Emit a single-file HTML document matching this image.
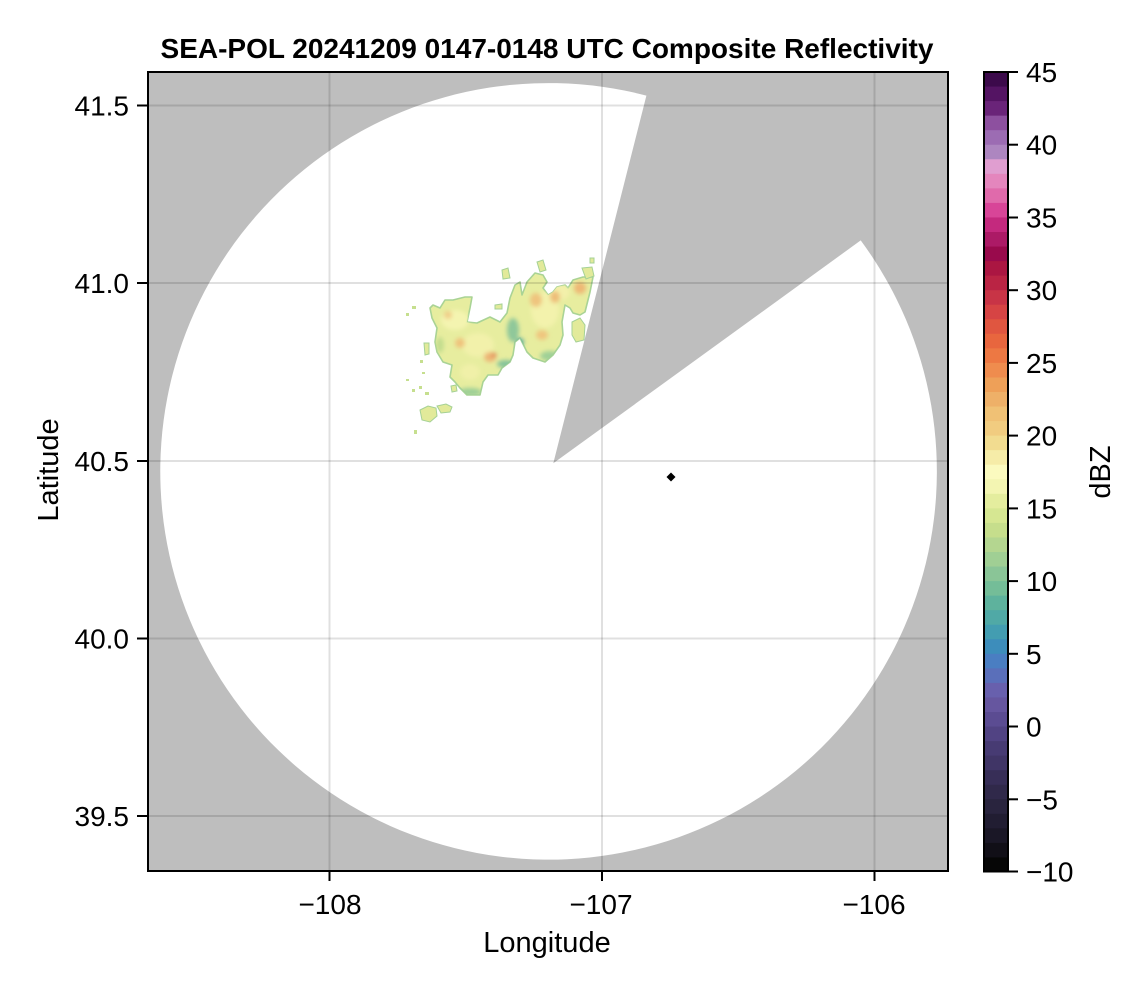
<!DOCTYPE html>
<html>
<head>
<meta charset="utf-8">
<style>
  html, body { margin:0; padding:0; background:#ffffff; }
  svg { display:block; }
  text { font-family: "Liberation Sans", Arial, Helvetica, sans-serif; fill:#000; }
</style>
</head>
<body>
<svg width="1146" height="990" viewBox="0 0 1146 990" xmlns="http://www.w3.org/2000/svg">
  <defs>
    <clipPath id="plotclip"><rect x="148" y="72" width="800" height="799"/></clipPath>
    <filter id="soft" x="-20%" y="-20%" width="140%" height="140%">
      <feGaussianBlur stdDeviation="2.2"/>
    </filter>
    <clipPath id="stormclip">
      <polygon points="433,305 440,308 445,300 453,300 465,297 472,297 470,308 467,322 477,323 490,317 500,322 507,313 510,298 515,285 520,282 522,295 527,282 535,273 543,275 547,282 543,288 548,295 553,292 557,287 565,285 568,288 573,280 583,277 593,277 590,292 585,312 580,315 573,313 570,308 565,305 562,322 563,335 560,345 553,355 545,362 533,358 527,352 520,338 515,342 513,355 510,362 502,368 498,375 488,375 483,382 480,395 467,395 460,388 455,382 450,377 452,365 443,362 437,352 435,342 437,328 432,318 430,308"/>
    </clipPath>
  </defs>

  <!-- Title -->
  <text x="547" y="58" text-anchor="middle" font-size="28" font-weight="bold">SEA-POL 20241209 0147-0148 UTC Composite Reflectivity</text>

  <!-- Plot area -->
  <g clip-path="url(#plotclip)">
    <rect x="148" y="72" width="800" height="799" fill="#bebebe"/>
    <path d="M553.3,463.3 L860.7,240.4 A388.3,388.3 0 1 1 646.4,95.6 Z" fill="#ffffff"/>

    <!-- storm echoes -->
    <g>
      <polygon points="433,305 440,308 445,300 453,300 465,297 472,297 470,308 467,322 477,323 490,317 500,322 507,313 510,298 515,285 520,282 522,295 527,282 535,273 543,275 547,282 543,288 548,295 553,292 557,287 565,285 568,288 573,280 583,277 593,277 590,292 585,312 580,315 573,313 570,308 565,305 562,322 563,335 560,345 553,355 545,362 533,358 527,352 520,338 515,342 513,355 510,362 502,368 498,375 488,375 483,382 480,395 467,395 460,388 455,382 450,377 452,365 443,362 437,352 435,342 437,328 432,318 430,308" fill="#e7ed9f" stroke="#a9d395" stroke-width="1.6" stroke-linejoin="round"/>
      <g clip-path="url(#stormclip)" filter="url(#soft)">
        <ellipse cx="455" cy="320" rx="14" ry="10" fill="#f4f4b0"/>
        <ellipse cx="545" cy="310" rx="14" ry="18" fill="#f3f2ac"/>
        <ellipse cx="478" cy="345" rx="16" ry="12" fill="#f2f1aa"/>
        <ellipse cx="470" cy="372" rx="10" ry="8" fill="#f0f0a8"/>
        <ellipse cx="560" cy="292" rx="10" ry="8" fill="#f3f0aa"/>
        <ellipse cx="460" cy="343" rx="5" ry="5" fill="#efc27c"/>
        <ellipse cx="490" cy="357" rx="6" ry="5" fill="#edb574"/>
        <ellipse cx="494" cy="355" rx="2.5" ry="2.5" fill="#e28a58"/>
        <ellipse cx="536" cy="300" rx="6" ry="7" fill="#efc47e"/>
        <ellipse cx="555" cy="297" rx="5" ry="6" fill="#eebd78"/>
        <ellipse cx="580" cy="288" rx="6" ry="6" fill="#eeb874"/>
        <ellipse cx="542" cy="335" rx="6" ry="5" fill="#efc67e"/>
        <ellipse cx="448" cy="315" rx="4" ry="4" fill="#f0cd88"/>
        <ellipse cx="513" cy="330" rx="6" ry="12" fill="#8fc79a"/>
        <ellipse cx="520" cy="342" rx="4" ry="4" fill="#5fae9e"/>
        <ellipse cx="506" cy="364" rx="9" ry="4" fill="#84c39a"/>
        <ellipse cx="470" cy="392" rx="12" ry="4" fill="#9ccf96"/>
        <ellipse cx="550" cy="356" rx="10" ry="5" fill="#9fd096"/>
        <ellipse cx="440" cy="345" rx="4" ry="8" fill="#c3dd8e"/>
      </g>
      <!-- fragments -->
      <g fill="#e2ea9a" stroke="#a5d195" stroke-width="1">
        <polygon points="420,410 428,406 436,408 437,416 430,422 422,420"/>
        <polygon points="437,406 446,404 452,407 450,412 441,413"/>
        <polygon points="451,386 456,385 457,391 452,392"/>
        <polygon points="424,343 429,343 429,354 425,355"/>
        <polygon points="495,305 502,304 502,309 495,309"/>
        <polygon points="502,270 508,268 510,278 503,279"/>
        <polygon points="582,268 592,267 594,276 586,279"/>
        <polygon points="572,322 580,318 585,325 584,340 576,342 572,335"/>
        <polygon points="537,262 543,260 546,270 540,272"/>
        <polygon points="590,258 594,258 594,263 590,263"/>
      </g>
      <g fill="#c6df8f">
        <rect x="406" y="313" width="3" height="3"/>
        <rect x="412" y="306" width="4" height="3"/>
        <rect x="420" y="360" width="3" height="3"/>
        <rect x="422" y="372" width="3" height="2"/>
        <rect x="406" y="379" width="3" height="2"/>
        <rect x="412" y="389" width="3" height="3"/>
        <rect x="419" y="386" width="3" height="3"/>
        <rect x="414" y="430" width="3" height="4"/>
        <rect x="425" y="392" width="4" height="3"/>
      </g>
    </g>

    <!-- grid -->
    <g stroke="#000" stroke-opacity="0.12" stroke-width="2">
      <line x1="329.5" y1="72" x2="329.5" y2="871"/>
      <line x1="602" y1="72" x2="602" y2="871"/>
      <line x1="874.5" y1="72" x2="874.5" y2="871"/>
      <line x1="148" y1="105.5" x2="948" y2="105.5"/>
      <line x1="148" y1="283" x2="948" y2="283"/>
      <line x1="148" y1="461" x2="948" y2="461"/>
      <line x1="148" y1="638.5" x2="948" y2="638.5"/>
      <line x1="148" y1="816" x2="948" y2="816"/>
    </g>

    <!-- marker -->
    <polygon points="671,472.5 675.5,477 671,481.5 666.5,477" fill="#000"/>
  </g>

  <!-- frame -->
  <rect x="148" y="72" width="800" height="799" fill="none" stroke="#000" stroke-width="2"/>

  <!-- ticks -->
  <g stroke="#000" stroke-width="2">
    <line x1="329.5" y1="871" x2="329.5" y2="881"/>
    <line x1="602" y1="871" x2="602" y2="881"/>
    <line x1="874.5" y1="871" x2="874.5" y2="881"/>
    <line x1="137" y1="105.5" x2="148" y2="105.5"/>
    <line x1="137" y1="283" x2="148" y2="283"/>
    <line x1="137" y1="461" x2="148" y2="461"/>
    <line x1="137" y1="638.5" x2="148" y2="638.5"/>
    <line x1="137" y1="816" x2="148" y2="816"/>
  </g>

  <!-- tick labels -->
  <g font-size="28">
    <text x="330" y="914" text-anchor="middle">−108</text>
    <text x="601" y="914" text-anchor="middle">−107</text>
    <text x="874" y="914" text-anchor="middle">−106</text>
    <text x="129" y="115.5" text-anchor="end">41.5</text>
    <text x="129" y="293" text-anchor="end">41.0</text>
    <text x="129" y="471" text-anchor="end">40.5</text>
    <text x="129" y="648.5" text-anchor="end">40.0</text>
    <text x="129" y="826" text-anchor="end">39.5</text>
  </g>

  <!-- axis labels -->
  <text x="547" y="952" text-anchor="middle" font-size="29">Longitude</text>
  <text x="0" y="0" text-anchor="middle" font-size="29" transform="translate(58,470) rotate(-90)">Latitude</text>

  <!-- colorbar -->
  <g>
    <rect x="984" y="72.00" width="24" height="15" fill="#3c0a4b"/>
    <rect x="984" y="86.55" width="24" height="15" fill="#541463"/>
    <rect x="984" y="101.09" width="24" height="15" fill="#6a2479"/>
    <rect x="984" y="115.64" width="24" height="15" fill="#8d509f"/>
    <rect x="984" y="130.18" width="24" height="15" fill="#9c6cb3"/>
    <rect x="984" y="144.73" width="24" height="15" fill="#ad86c0"/>
    <rect x="984" y="159.27" width="24" height="15" fill="#e09ed0"/>
    <rect x="984" y="173.82" width="24" height="15" fill="#e486bd"/>
    <rect x="984" y="188.36" width="24" height="15" fill="#e06aab"/>
    <rect x="984" y="202.91" width="24" height="15" fill="#d84598"/>
    <rect x="984" y="217.45" width="24" height="15" fill="#c4297e"/>
    <rect x="984" y="232.00" width="24" height="15" fill="#ac1a66"/>
    <rect x="984" y="246.55" width="24" height="15" fill="#990a4c"/>
    <rect x="984" y="261.09" width="24" height="15" fill="#ab1642"/>
    <rect x="984" y="275.64" width="24" height="15" fill="#ba2444"/>
    <rect x="984" y="290.18" width="24" height="15" fill="#c83446"/>
    <rect x="984" y="304.73" width="24" height="15" fill="#d64444"/>
    <rect x="984" y="319.27" width="24" height="15" fill="#e05640"/>
    <rect x="984" y="333.82" width="24" height="15" fill="#e8663e"/>
    <rect x="984" y="348.36" width="24" height="15" fill="#ed7843"/>
    <rect x="984" y="362.91" width="24" height="15" fill="#ef8c4e"/>
    <rect x="984" y="377.45" width="24" height="15" fill="#eea058"/>
    <rect x="984" y="392.00" width="24" height="15" fill="#eeb068"/>
    <rect x="984" y="406.55" width="24" height="15" fill="#f0c175"/>
    <rect x="984" y="421.09" width="24" height="15" fill="#f1cc80"/>
    <rect x="984" y="435.64" width="24" height="15" fill="#f2dc90"/>
    <rect x="984" y="450.18" width="24" height="15" fill="#f6eca8"/>
    <rect x="984" y="464.73" width="24" height="15" fill="#fbfabf"/>
    <rect x="984" y="479.27" width="24" height="15" fill="#f3f5b2"/>
    <rect x="984" y="493.82" width="24" height="15" fill="#e4ed9e"/>
    <rect x="984" y="508.36" width="24" height="15" fill="#d6e792"/>
    <rect x="984" y="522.91" width="24" height="15" fill="#c6de8c"/>
    <rect x="984" y="537.45" width="24" height="15" fill="#b4d690"/>
    <rect x="984" y="552.00" width="24" height="15" fill="#a0cf94"/>
    <rect x="984" y="566.55" width="24" height="15" fill="#8ac597"/>
    <rect x="984" y="581.09" width="24" height="15" fill="#74bd98"/>
    <rect x="984" y="595.64" width="24" height="15" fill="#5eb29d"/>
    <rect x="984" y="610.18" width="24" height="15" fill="#50a9a6"/>
    <rect x="984" y="624.73" width="24" height="15" fill="#439db1"/>
    <rect x="984" y="639.27" width="24" height="15" fill="#3d8dbb"/>
    <rect x="984" y="653.82" width="24" height="15" fill="#4a7ec2"/>
    <rect x="984" y="668.36" width="24" height="15" fill="#5a6fba"/>
    <rect x="984" y="682.91" width="24" height="15" fill="#6860ad"/>
    <rect x="984" y="697.45" width="24" height="15" fill="#66569f"/>
    <rect x="984" y="712.00" width="24" height="15" fill="#5b4c92"/>
    <rect x="984" y="726.55" width="24" height="15" fill="#514383"/>
    <rect x="984" y="741.09" width="24" height="15" fill="#473b73"/>
    <rect x="984" y="755.64" width="24" height="15" fill="#403566"/>
    <rect x="984" y="770.18" width="24" height="15" fill="#372e57"/>
    <rect x="984" y="784.73" width="24" height="15" fill="#30294a"/>
    <rect x="984" y="799.27" width="24" height="15" fill="#29243e"/>
    <rect x="984" y="813.82" width="24" height="15" fill="#211d32"/>
    <rect x="984" y="828.36" width="24" height="15" fill="#1a1726"/>
    <rect x="984" y="842.91" width="24" height="15" fill="#110f17"/>
    <rect x="984" y="857.45" width="24" height="14.5" fill="#060606"/>
    <rect x="984" y="72" width="24" height="799.5" fill="none" stroke="#000" stroke-width="2"/>
  </g>
  <g stroke="#000" stroke-width="2">
    <line x1="1008" y1="72" x2="1018" y2="72"/>
    <line x1="1008" y1="144.7" x2="1018" y2="144.7"/>
    <line x1="1008" y1="217.5" x2="1018" y2="217.5"/>
    <line x1="1008" y1="290.2" x2="1018" y2="290.2"/>
    <line x1="1008" y1="362.9" x2="1018" y2="362.9"/>
    <line x1="1008" y1="435.6" x2="1018" y2="435.6"/>
    <line x1="1008" y1="508.4" x2="1018" y2="508.4"/>
    <line x1="1008" y1="581.1" x2="1018" y2="581.1"/>
    <line x1="1008" y1="653.8" x2="1018" y2="653.8"/>
    <line x1="1008" y1="726.5" x2="1018" y2="726.5"/>
    <line x1="1008" y1="799.3" x2="1018" y2="799.3"/>
    <line x1="1008" y1="871.5" x2="1018" y2="871.5"/>
  </g>
  <g font-size="28">
    <text x="1026" y="82">45</text>
    <text x="1026" y="154.7">40</text>
    <text x="1026" y="227.5">35</text>
    <text x="1026" y="300.2">30</text>
    <text x="1026" y="372.9">25</text>
    <text x="1026" y="445.6">20</text>
    <text x="1026" y="518.4">15</text>
    <text x="1026" y="591.1">10</text>
    <text x="1026" y="663.8">5</text>
    <text x="1026" y="736.5">0</text>
    <text x="1026" y="809.3">−5</text>
    <text x="1026" y="881.5">−10</text>
  </g>
  <text x="0" y="0" text-anchor="middle" font-size="29" transform="translate(1110,472) rotate(-90)">dBZ</text>
</svg>
</body>
</html>
